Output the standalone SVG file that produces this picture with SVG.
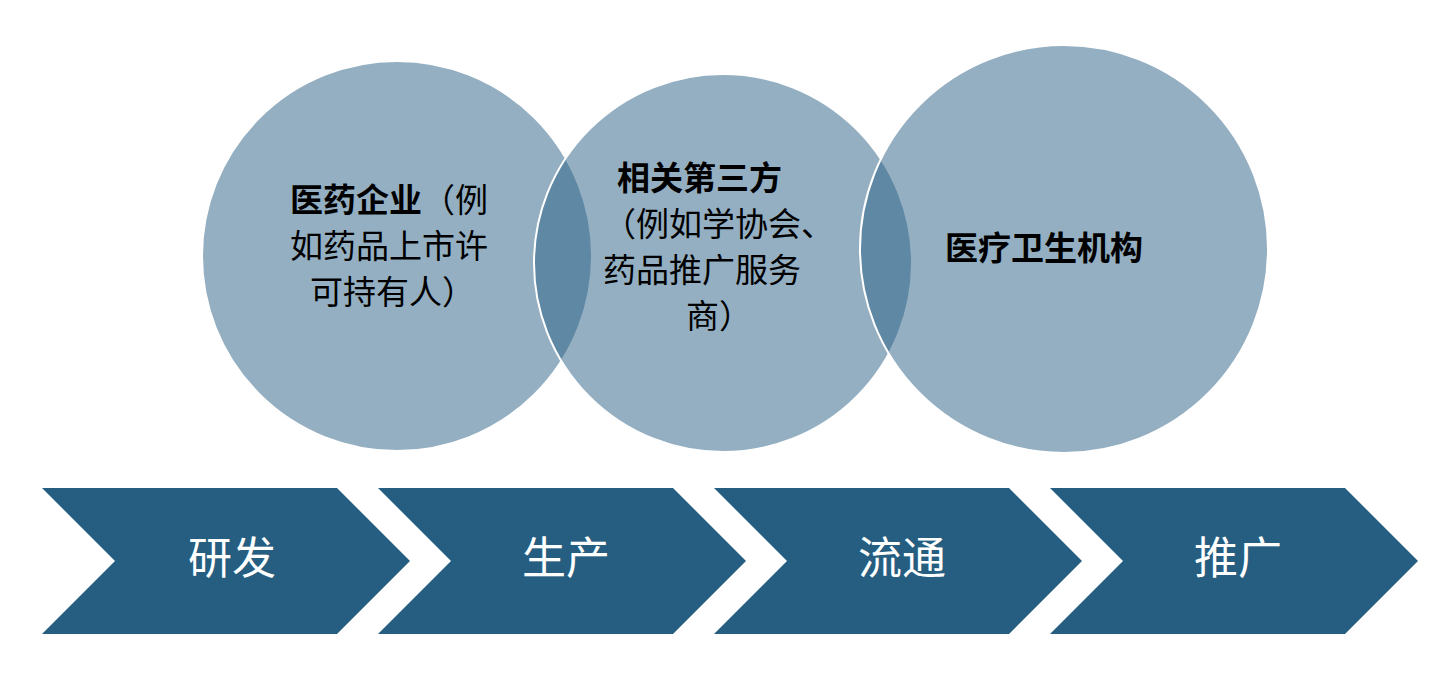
<svg xmlns="http://www.w3.org/2000/svg" width="1452" height="678" viewBox="0 0 1452 678">
<style>
.c{fill:rgb(46,98,135);fill-opacity:0.51;stroke:#fff;stroke-width:2}
.ch{fill:#255e80}
.t{font-family:"Liberation Serif","Noto Sans CJK SC",serif;font-size:33px;fill:#000}
.b{font-weight:bold}
.w{font-family:"Liberation Serif","Noto Sans CJK SC",serif;font-size:44px;fill:#fff;text-anchor:middle;dominant-baseline:central}
</style>
<rect width="1452" height="678" fill="#fff"/>
<g id="circle1"><circle class="c" cx="397" cy="256" r="195"/>
<text class="t" x="290" y="212"><tspan class="b">医药企业</tspan>（例</text>
<text class="t" x="290" y="258">如药品上市许</text>
<text class="t" x="310" y="304">可持有人）</text></g>
<g id="circle2"><circle class="c" cx="723" cy="263" r="189"/>
<text class="t b" x="617" y="190">相关第三方</text>
<text class="t" x="603" y="236">（例如学协会、</text>
<text class="t" x="603" y="282">药品推广服务</text>
<text class="t" x="686" y="328">商）</text></g>
<g id="circle3"><circle class="c" cx="1064" cy="249" r="204"/>
<text class="t b" x="945" y="260">医疗卫生机构</text></g>
<g id="s1"><polygon class="ch" points="42,488 337,488 410,561 337,634 42,634 115,561"/><text class="w" x="232" y="559">研发</text></g>
<g id="s2"><polygon class="ch" points="378,488 673,488 746,561 673,634 378,634 451,561"/><text class="w" x="566" y="559">生产</text></g>
<g id="s3"><polygon class="ch" points="714,488 1009,488 1082,561 1009,634 714,634 787,561"/><text class="w" x="902" y="559">流通</text></g>
<g id="s4"><polygon class="ch" points="1050,488 1345,488 1418,561 1345,634 1050,634 1123,561"/><text class="w" x="1238" y="559">推广</text></g>
<g id="connectors"/>
</svg>
